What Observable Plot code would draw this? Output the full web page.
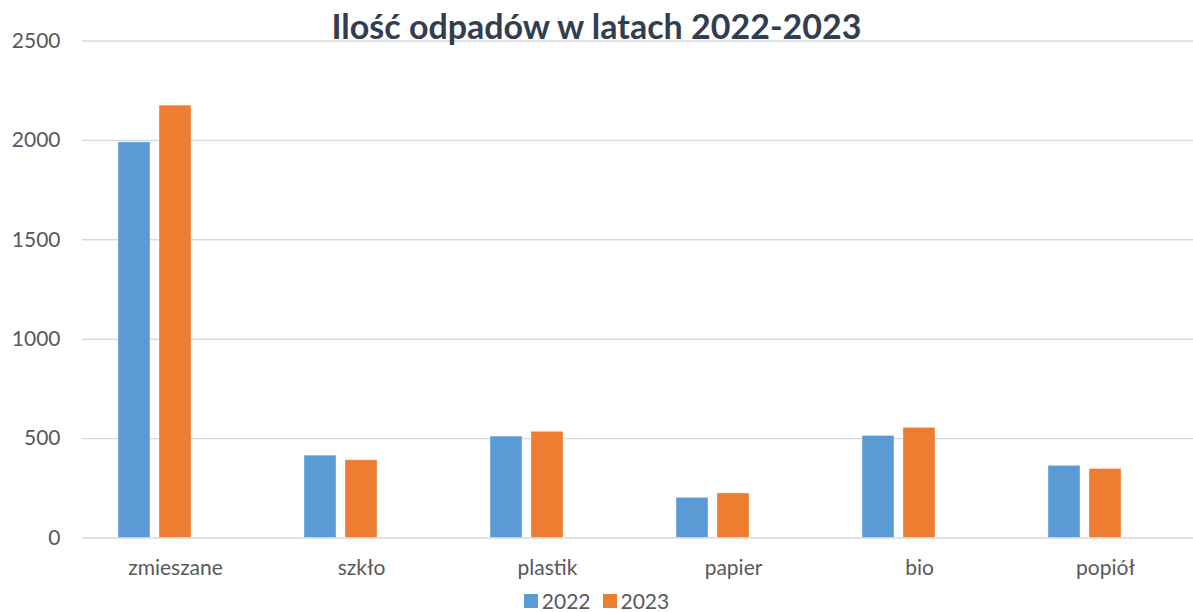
<!DOCTYPE html>
<html>
<head>
<meta charset="utf-8">
<script src="https://cdn.jsdelivr.net/npm/d3@7"></script>
<script src="https://cdn.jsdelivr.net/npm/@observablehq/plot@0.6"></script>
<style>
  html, body { margin: 0; padding: 0; background: #fff; }
  #wrap { position: relative; width: 1193px; height: 612px; overflow: hidden; font-family: Lato, "Open Sans", sans-serif; }
  #title { position: absolute; left: 0; width: 1193px; top: 6px; text-align: center; font-size: 34px; font-weight: 700; color: #323E4F; z-index: 2; line-height: 40px; }
  #chart { position: absolute; left: 0; top: 0; }
  #chart svg { max-width: none !important; }
  #legend { position: absolute; left: 0; width: 1193px; top: 590px; height: 22px; display: flex; justify-content: center; align-items: center; font-size: 21px; color: #595959; line-height: 22px; }
  .item { display: flex; align-items: center; margin: 0 6px; }
  .sw { width: 14px; height: 14px; margin-right: 4px; }
</style>
</head>
<body>
<div id="wrap">
  <div id="chart"></div>
  <div id="title">Ilość odpadów w latach 2022-2023</div>
  <div id="legend"></div>
</div>
<script>
const categories = ["zmieszane", "szkło", "plastik", "papier", "bio", "popiół"];
const years = ["2022", "2023"];
const values2022 = [1990, 414, 510, 202, 513, 363];
const values2023 = [2175, 391, 534, 224, 554, 347];
const colors = ["#5B9BD5", "#ED7D31"];
const yTicks = [0, 500, 1000, 1500, 2000, 2500];

const data = [];
categories.forEach((c, i) => {
  data.push({category: c, year: "2022", value: values2022[i]});
  data.push({category: c, year: "2023", value: values2023[i]});
});

const chart = Plot.plot({
  width: 1200,
  height: 580,
  marginTop: 40.5,
  marginBottom: 42.5,
  marginLeft: 80,
  marginRight: 0,
  style: { fontFamily: "Lato, 'Open Sans', sans-serif", fontSize: "21px", color: "#595959", background: "transparent", maxWidth: "none" },
  fx: { domain: categories, padding: 0, label: null, tickSize: 0, tickPadding: 22 },
  x: { domain: ["2022", "2023", "_"], paddingInner: 0.22, paddingOuter: 0.866, axis: null },
  y: { domain: [0, 2500], ticks: yTicks, label: null, tickSize: 0, tickPadding: 22 },
  color: { domain: years, range: colors },
  marks: [
    Plot.gridY(yTicks, { stroke: "#d9d9d9", strokeOpacity: 1, strokeWidth: 1.4 }),
    Plot.barY(data, { fx: "category", x: "year", y: "value", fill: "year", stroke: "#ffffff", strokeOpacity: 0.35, strokeWidth: 1 }),
    Plot.axisY({ ticks: yTicks, tickFormat: d3.format("d"), tickSize: 0, tickPadding: 22, fontSize: 21, fill: "#595959" })
  ]
});
document.getElementById("chart").appendChild(chart);

const legend = document.getElementById("legend");
years.forEach((y, i) => {
  const item = document.createElement("div");
  item.className = "item";
  const sw = document.createElement("div");
  sw.className = "sw";
  sw.style.background = colors[i];
  const t = document.createElement("span");
  t.textContent = y;
  item.appendChild(sw);
  item.appendChild(t);
  legend.appendChild(item);
});
</script>
</body>
</html>
